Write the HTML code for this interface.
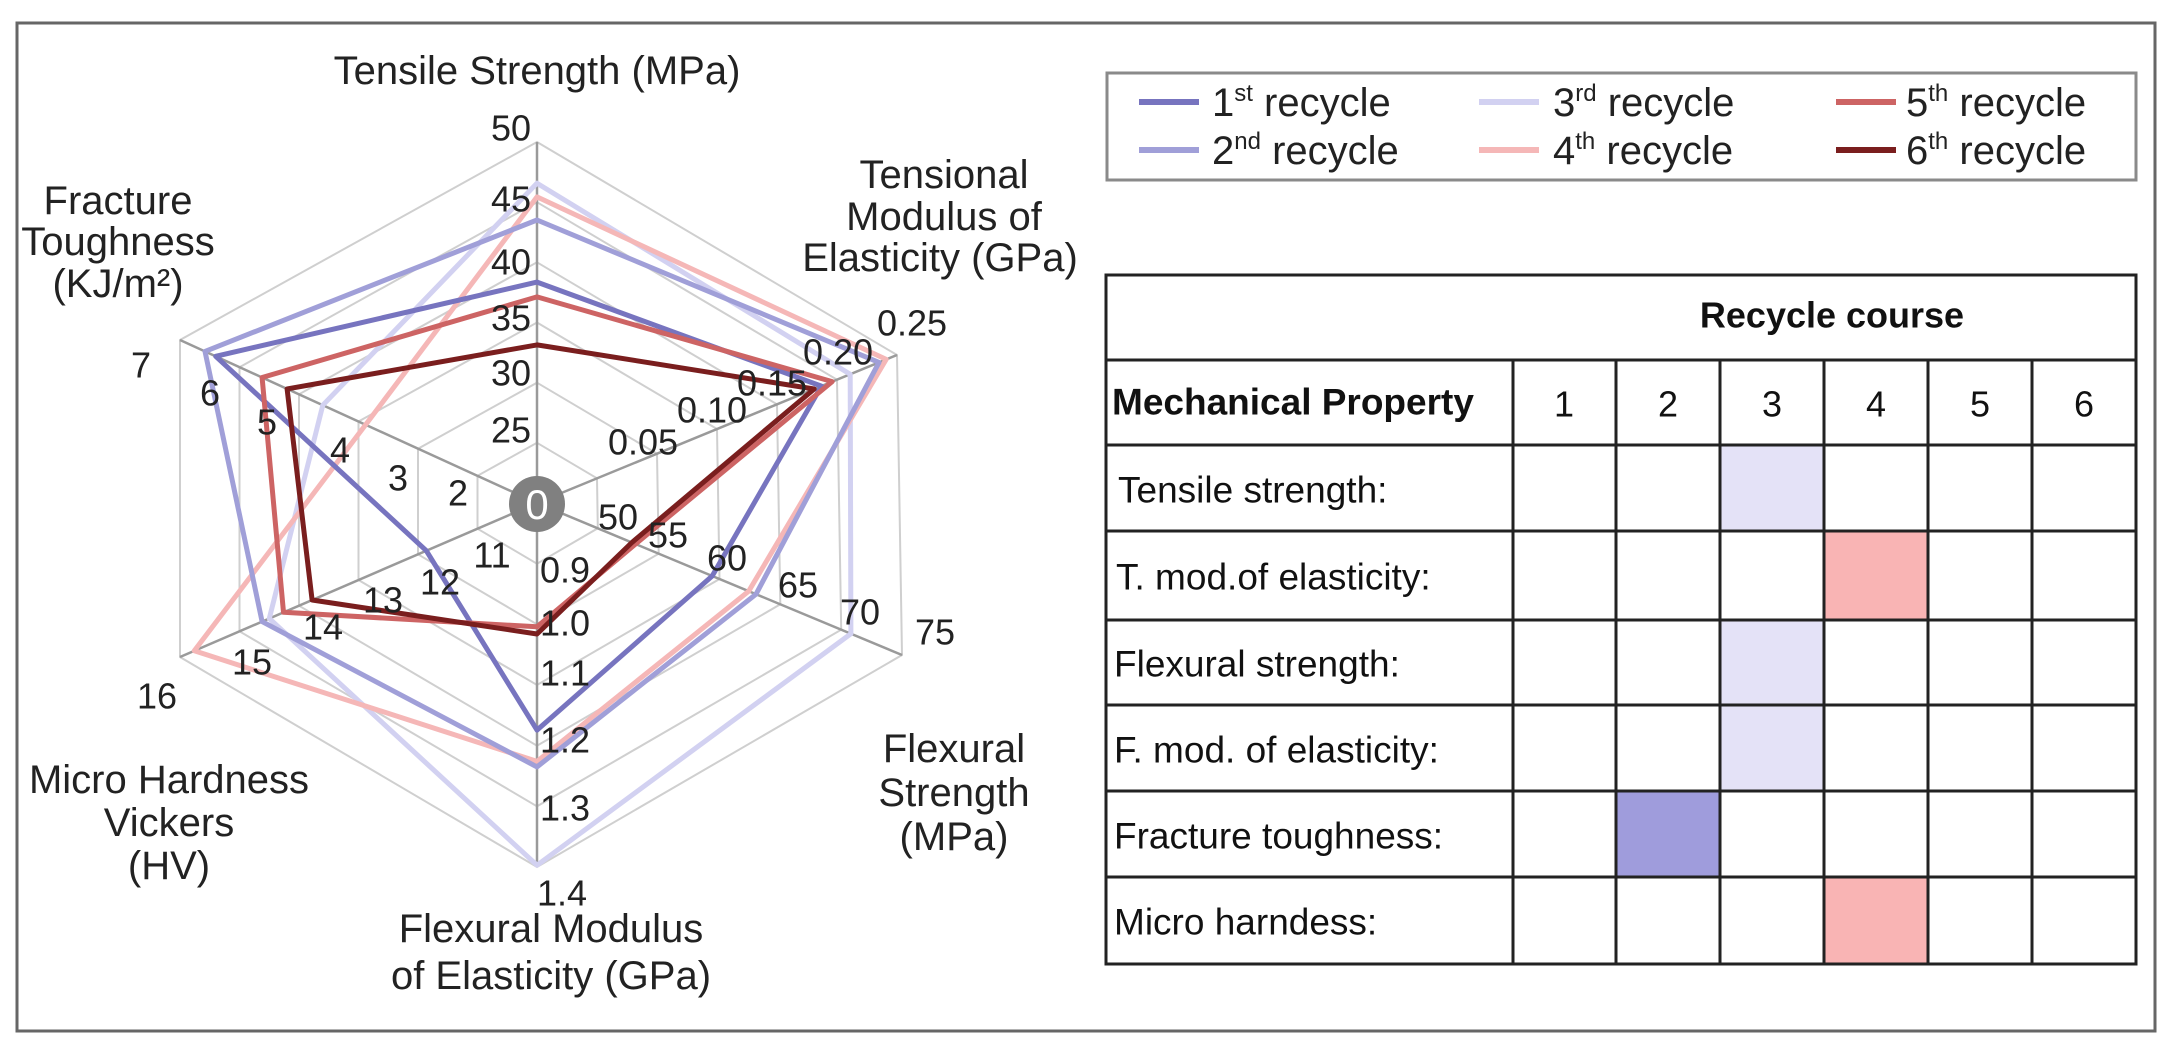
<!DOCTYPE html>
<html><head><meta charset="utf-8"><style>
html,body{margin:0;padding:0;background:#fff;}
svg{display:block;font-family:"Liberation Sans",sans-serif;}
</style></head><body>
<svg width="2160" height="1037" viewBox="0 0 2160 1037" xmlns="http://www.w3.org/2000/svg">
<rect x="17" y="23" width="2138" height="1008" fill="#fff" stroke="#666" stroke-width="3"/>
<g fill="none" stroke="#cfcfcf" stroke-width="2">
<polygon points="537,442.8 597,478.3 597.8,528.3 537,563.7 477.5,528.7 477.5,475.8"/>
<polygon points="537,382.7 657,453.7 658.7,553.7 537,624.3 418,554.3 418,448.7"/>
<polygon points="537,322.5 717,429 719.5,579 537,685 358.5,580 358.5,421.5"/>
<polygon points="537,262.3 777,404.3 780.3,604.3 537,745.7 299,605.7 299,394.3"/>
<polygon points="537,202.2 837,379.7 841.2,629.7 537,806.3 239.5,631.3 239.5,367.2"/>
<polygon points="537,142 897,355 902,655 537,867 180,657 180,340"/>
</g>
<g stroke="#9a9a9a" stroke-width="2.5">
<line x1="537" y1="503" x2="537" y2="142"/><line x1="537" y1="503" x2="897" y2="355"/>
<line x1="537" y1="503" x2="902" y2="655"/><line x1="537" y1="503" x2="537" y2="867"/>
<line x1="537" y1="503" x2="180" y2="657"/><line x1="537" y1="503" x2="180" y2="340"/>
</g>
<g fill="none" stroke-width="5" stroke-linejoin="round">
<polygon stroke="#d2d1f1" points="537,183.2 850.2,374.2 850.9,633.7 537,865.2 269.3,618.5 322.8,405.2"/>
<polygon stroke="#f5b7b7" points="537,196.9 886.2,359.4 748.7,591.2 537,761.4 194.3,650.8 365.6,424.8"/>
<polygon stroke="#a09fd8" points="537,220 879,362.4 756,594.2 537,766.9 262.1,621.6 205,351.4"/>
<polygon stroke="#7774bf" points="537,282.1 821.4,386.1 712.2,576 537,730.1 426.3,550.7 215.7,356.3"/>
<polygon stroke="#cd6464" points="537,296.9 832.2,381.6 635.6,544 537,626.8 283.5,612.3 262.1,377.5"/>
<polygon stroke="#7a1e1e" points="537,344.9 814.2,389 631.9,542.5 537,634 312.1,600 287.1,388.9"/>
</g>
<circle cx="537" cy="504" r="28" fill="#808080"/>
<text x="537" y="519" font-size="42" fill="#fff" text-anchor="middle">0</text>
<g font-size="36" fill="#222" dominant-baseline="central">
<g text-anchor="end">
<text x="531" y="128">50</text><text x="531" y="199">45</text><text x="531" y="262">40</text>
<text x="531" y="318">35</text><text x="531" y="373">30</text><text x="531" y="430">25</text>
</g>
<g text-anchor="middle">
<text x="458" y="493">2</text><text x="398" y="478">3</text><text x="340" y="450">4</text>
<text x="267" y="422">5</text><text x="210" y="393">6</text><text x="141" y="365">7</text>
<text x="492" y="555">11</text><text x="440" y="582">12</text><text x="383" y="600">13</text>
<text x="323" y="627">14</text><text x="252" y="662">15</text><text x="157" y="696">16</text>
<text x="565" y="570">0.9</text><text x="565" y="623">1.0</text><text x="565" y="673">1.1</text>
<text x="565" y="740">1.2</text><text x="565" y="808">1.3</text><text x="562" y="893">1.4</text>
<text x="643" y="442">0.05</text><text x="712" y="410">0.10</text><text x="772" y="383">0.15</text>
<text x="838" y="352">0.20</text><text x="912" y="323">0.25</text>
<text x="618" y="517">50</text><text x="668" y="535">55</text><text x="727" y="558">60</text>
<text x="798" y="585">65</text><text x="860" y="612">70</text><text x="935" y="632">75</text>
</g>
</g>
<g font-size="40" fill="#222" text-anchor="middle" dominant-baseline="central">
<text x="537" y="71">Tensile Strength (MPa)</text>
<text x="944" y="175">Tensional</text><text x="944" y="217">Modulus of</text><text x="940" y="258">Elasticity (GPa)</text>
<text x="118" y="201">Fracture</text><text x="118" y="242">Toughness</text><text x="118" y="284">(KJ/m²)</text>
<text x="954" y="749">Flexural</text><text x="954" y="793">Strength</text><text x="954" y="837">(MPa)</text>
<text x="169" y="780">Micro Hardness</text><text x="169" y="823">Vickers</text><text x="169" y="866">(HV)</text>
<text x="551" y="929">Flexural Modulus</text><text x="551" y="976">of Elasticity (GPa)</text>
</g>
<rect x="1107" y="73" width="1029" height="107" fill="#fff" stroke="#8a8a8a" stroke-width="3"/>
<g stroke-width="6">
<line x1="1139" y1="102" x2="1199" y2="102" stroke="#7774bf"/>
<line x1="1139" y1="150" x2="1199" y2="150" stroke="#a09fd8"/>
<line x1="1479" y1="102" x2="1539" y2="102" stroke="#d2d1f1"/>
<line x1="1479" y1="150" x2="1539" y2="150" stroke="#f5b7b7"/>
<line x1="1836" y1="102" x2="1896" y2="102" stroke="#cd6464"/>
<line x1="1836" y1="150" x2="1896" y2="150" stroke="#7a1e1e"/>
</g>
<g font-size="40" fill="#222">
<text x="1212" y="116">1<tspan font-size="24" dy="-15">st</tspan><tspan dy="15"> recycle</tspan></text>
<text x="1212" y="164">2<tspan font-size="24" dy="-15">nd</tspan><tspan dy="15"> recycle</tspan></text>
<text x="1553" y="116">3<tspan font-size="24" dy="-15">rd</tspan><tspan dy="15"> recycle</tspan></text>
<text x="1553" y="164">4<tspan font-size="24" dy="-15">th</tspan><tspan dy="15"> recycle</tspan></text>
<text x="1906" y="116">5<tspan font-size="24" dy="-15">th</tspan><tspan dy="15"> recycle</tspan></text>
<text x="1906" y="164">6<tspan font-size="24" dy="-15">th</tspan><tspan dy="15"> recycle</tspan></text>
</g>
<rect x="1720" y="445" width="104" height="86" fill="#e4e2f7"/>
<rect x="1824" y="531" width="104" height="89" fill="#f9b4b4"/>
<rect x="1720" y="620" width="104" height="171" fill="#e4e2f7"/>
<rect x="1616" y="791" width="104" height="86" fill="#9f9cdc"/>
<rect x="1824" y="877" width="104" height="87" fill="#f9b4b4"/>
<g stroke="#222" stroke-width="3" fill="none">
<rect x="1106" y="275" width="1030" height="689"/>
<line x1="1106" y1="360" x2="2136" y2="360"/>
<line x1="1106" y1="445" x2="2136" y2="445"/>
<line x1="1106" y1="531" x2="2136" y2="531"/>
<line x1="1106" y1="620" x2="2136" y2="620"/>
<line x1="1106" y1="705" x2="2136" y2="705"/>
<line x1="1106" y1="791" x2="2136" y2="791"/>
<line x1="1106" y1="877" x2="2136" y2="877"/>
<line x1="1513" y1="360" x2="1513" y2="964"/>
<line x1="1616" y1="360" x2="1616" y2="964"/>
<line x1="1720" y1="360" x2="1720" y2="964"/>
<line x1="1824" y1="360" x2="1824" y2="964"/>
<line x1="1928" y1="360" x2="1928" y2="964"/>
<line x1="2032" y1="360" x2="2032" y2="964"/>
</g>
<g font-size="37" fill="#111" dominant-baseline="central">
<text x="1832" y="315" font-weight="bold" font-size="36" text-anchor="middle">Recycle course</text>
<text x="1112" y="402" font-weight="bold">Mechanical Property</text>
<g text-anchor="middle" font-size="36">
<text x="1564" y="404">1</text><text x="1668" y="404">2</text><text x="1772" y="404">3</text>
<text x="1876" y="404">4</text><text x="1980" y="404">5</text><text x="2084" y="404">6</text>
</g>
<text x="1118" y="490">Tensile strength:</text>
<text x="1116" y="577">T. mod.of elasticity:</text>
<text x="1114" y="664">Flexural strength:</text>
<text x="1114" y="750">F. mod. of elasticity:</text>
<text x="1114" y="836">Fracture toughness:</text>
<text x="1114" y="922">Micro harndess:</text>
</g>
</svg>
</body></html>
